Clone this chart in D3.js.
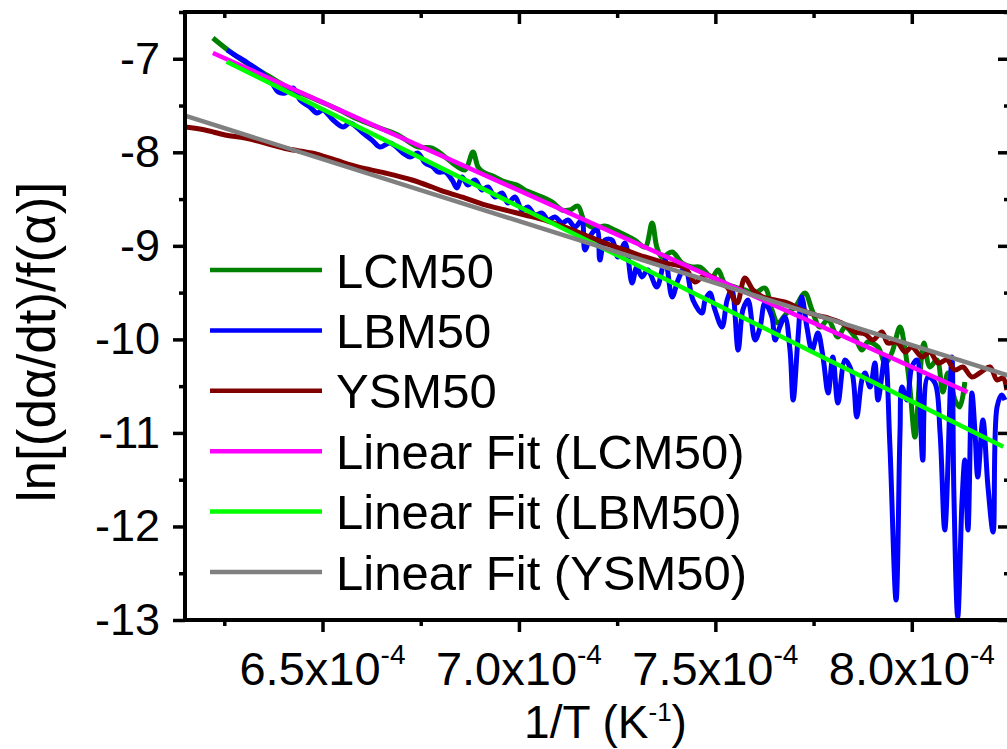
<!DOCTYPE html>
<html>
<head>
<meta charset="utf-8">
<script src="https://cdn.jsdelivr.net/npm/d3@7"></script>
<style>
  body { margin: 0; background: #fff; }
  svg { display: block; }
  text { font-family: "Liberation Sans", Arial, sans-serif; fill: #000; }
</style>
</head>
<body>
<svg id="chart" width="1007" height="749"></svg>
<script>
// x values are 1/T in units of 1e-4 K^-1, y values are ln[(dα/dt)/f(α)]
const xMajorTicks = [6.5, 7.0, 7.5, 8.0];
const xMinorTicks = [6.25, 6.75, 7.25, 7.75, 8.25];
const yMajorTicks = [-13, -12, -11, -10, -9, -8, -7];
const yMinorTicks = [-12.5, -11.5, -10.5, -9.5, -8.5, -7.5, -6.5];
const xExponent = "-4";

const seriesNames = ["LCM50", "LBM50", "YSM50",
  "Linear Fit (LCM50)", "Linear Fit (LBM50)", "Linear Fit (YSM50)"];
const seriesColors = ["#008000", "#0000ff", "#800000", "#ff00ff", "#00ff00", "#808080"];

const lcm50 = [
  [6.221,-6.778],[6.259,-6.906],[6.303,-7.035],[6.346,-7.142],[6.405,-7.291],[6.468,-7.409],
  [6.532,-7.526],[6.595,-7.655],[6.646,-7.740],[6.692,-7.815],[6.743,-7.943],[6.779,-7.954],
  [6.812,-8.050],[6.845,-8.157],[6.863,-8.189],[6.883,-7.997],[6.896,-8.157],[6.909,-8.211],
  [6.939,-8.264],[6.965,-8.317],[6.995,-8.350],[7.015,-8.403],[7.033,-8.435],[7.059,-8.478],
  [7.084,-8.531],[7.110,-8.617],[7.130,-8.617],[7.150,-8.574],[7.168,-8.745],[7.194,-8.809],
  [7.219,-8.788],[7.244,-8.831],[7.270,-8.884],[7.295,-8.938],[7.321,-9.012],[7.339,-8.756],
  [7.351,-9.012],[7.364,-9.119],[7.390,-9.066],[7.415,-9.183],[7.440,-9.226],[7.461,-9.226],
  [7.491,-9.333],[7.507,-9.258],[7.524,-9.397],[7.550,-9.440],[7.575,-9.472],[7.601,-9.504],
  [7.626,-9.451],[7.644,-9.686],[7.659,-9.825],[7.682,-9.718],[7.703,-9.654],[7.728,-9.504],
  [7.746,-9.686],[7.766,-9.868],[7.787,-9.793],[7.812,-9.975],[7.830,-9.868],[7.855,-9.975],
  [7.873,-10.114],[7.888,-10.028],[7.914,-10.081],[7.932,-10.253],[7.949,-10.146],[7.970,-9.868],
  [7.983,-10.114],[7.995,-10.509],[8.008,-11.044],[8.021,-10.359],[8.031,-10.039],[8.046,-10.295],
  [8.064,-10.220],[8.079,-10.563],[8.092,-10.359],[8.110,-10.648],[8.122,-10.723],[8.135,-10.456]
];

const lbm50 = [
  [6.257,-6.906],[6.277,-6.960],[6.310,-7.045],[6.346,-7.152],[6.371,-7.259],[6.387,-7.355],
  [6.405,-7.366],[6.425,-7.313],[6.443,-7.441],[6.468,-7.516],[6.486,-7.580],[6.501,-7.548],
  [6.527,-7.655],[6.552,-7.730],[6.570,-7.687],[6.603,-7.794],[6.626,-7.869],[6.646,-7.943],
  [6.672,-7.901],[6.705,-8.008],[6.723,-8.050],[6.743,-8.008],[6.761,-8.114],[6.781,-8.157],
  [6.794,-8.211],[6.812,-8.211],[6.830,-8.296],[6.842,-8.382],[6.855,-8.264],[6.870,-8.350],
  [6.888,-8.296],[6.906,-8.403],[6.921,-8.371],[6.939,-8.478],[6.957,-8.435],[6.972,-8.542],
  [6.990,-8.478],[7.008,-8.617],[7.023,-8.585],[7.041,-8.670],[7.059,-8.649],[7.074,-8.724],
  [7.092,-8.692],[7.110,-8.756],[7.125,-8.724],[7.143,-8.799],[7.160,-8.724],[7.168,-9.044],
  [7.186,-8.863],[7.199,-8.831],[7.206,-9.151],[7.219,-8.938],[7.237,-8.938],[7.252,-9.119],
  [7.270,-8.970],[7.288,-9.397],[7.300,-9.226],[7.313,-9.333],[7.328,-9.258],[7.351,-9.440],
  [7.372,-9.151],[7.390,-9.547],[7.405,-9.365],[7.423,-9.226],[7.443,-9.579],[7.466,-9.718],
  [7.474,-9.579],[7.486,-9.504],[7.499,-9.686],[7.517,-9.868],[7.530,-9.579],[7.542,-9.472],
  [7.558,-10.114],[7.570,-9.686],[7.583,-9.579],[7.601,-10.007],[7.614,-9.868],[7.626,-9.611],
  [7.644,-9.761],[7.652,-10.007],[7.664,-9.868],[7.677,-9.761],[7.690,-10.114],[7.698,-10.648],
  [7.710,-10.007],[7.720,-9.547],[7.733,-9.868],[7.746,-10.114],[7.761,-9.932],[7.774,-10.188],
  [7.787,-10.573],[7.799,-10.188],[7.812,-10.680],[7.830,-10.220],[7.848,-10.359],[7.860,-10.830],
  [7.873,-10.434],[7.881,-10.359],[7.894,-10.509],[7.906,-10.253],[7.914,-10.648],[7.932,-10.188],
  [7.944,-11.108],[7.960,-12.786],[7.970,-11.001],[7.975,-10.509],[7.988,-10.648],[8.000,-10.295],
  [8.013,-10.220],[8.021,-10.723],[8.028,-11.290],[8.041,-10.402],[8.059,-10.466],[8.072,-11.001],
  [8.084,-12.038],[8.102,-10.188],[8.107,-11.610],[8.117,-12.968],[8.128,-11.717],[8.135,-11.290],
  [8.143,-12.038],[8.153,-10.573],[8.161,-11.001],[8.168,-11.471],[8.181,-10.862],[8.194,-11.578],
  [8.207,-12.059],[8.217,-10.723],[8.229,-10.595],[8.237,-10.648]
];

const ysm50 = [
  [6.150,-7.730],[6.201,-7.762],[6.252,-7.815],[6.303,-7.847],[6.354,-7.901],[6.412,-7.965],
  [6.473,-8.008],[6.532,-8.082],[6.590,-8.157],[6.659,-8.221],[6.728,-8.296],[6.779,-8.371],
  [6.812,-8.424],[6.863,-8.489],[6.914,-8.563],[6.965,-8.617],[7.015,-8.670],[7.066,-8.724],
  [7.117,-8.799],[7.168,-8.884],[7.219,-8.970],[7.270,-9.044],[7.321,-9.119],[7.372,-9.183],
  [7.423,-9.237],[7.448,-9.387],[7.474,-9.312],[7.507,-9.365],[7.532,-9.451],[7.555,-9.611],
  [7.575,-9.344],[7.596,-9.472],[7.621,-9.547],[7.652,-9.579],[7.685,-9.611],[7.720,-9.686],
  [7.754,-9.739],[7.787,-9.771],[7.822,-9.825],[7.855,-9.921],[7.881,-9.942],[7.901,-10.007],
  [7.924,-9.921],[7.939,-10.039],[7.962,-10.028],[7.983,-10.135],[8.000,-10.081],[8.026,-10.188],
  [8.046,-10.135],[8.067,-10.253],[8.089,-10.220],[8.110,-10.327],[8.130,-10.295],[8.153,-10.402],
  [8.173,-10.359],[8.199,-10.295],[8.217,-10.434],[8.232,-10.413],[8.242,-10.541]
];

// straight-line fits, given by their end points
const fitLCM50 = [[6.221,-6.938],[8.142,-10.563]];
const fitLBM50 = [[6.256,-7.031],[8.233,-11.147]];
const fitYSM50 = [[6.150,-7.609],[8.250,-10.392]];

const allSeries = [lcm50, lbm50, ysm50, fitLCM50, fitLBM50, fitYSM50];

(function draw() {
  const svg = d3.select("#chart");
  const mLeft = 185, mRight = 1010, mTop = 12, mBottom = 620;
  const yTickFont = 45, xTickFont = 47, legendFont = 49;
  const fontFamily = "'Liberation Sans', Arial, sans-serif";

  const x = d3.scaleLinear().domain([6.15, 8.25]).range([mLeft, mRight]);
  const y = d3.scaleLinear().domain([-13, -6.5]).range([mBottom, mTop]);

  svg.append("defs").append("clipPath").attr("id", "plotClip")
    .append("rect").attr("x", mLeft).attr("y", mTop)
    .attr("width", mRight - mLeft).attr("height", mBottom - mTop);

  const curveLine = d3.line().x(d => x(d[0])).y(d => y(d[1]))
    .curve(d3.curveCatmullRom.alpha(0.5));
  const straightLine = d3.line().x(d => x(d[0])).y(d => y(d[1]));

  const plot = svg.append("g").attr("clip-path", "url(#plotClip)");
  allSeries.forEach((data, i) => {
    plot.append("path")
      .datum(data)
      .attr("fill", "none")
      .attr("stroke", seriesColors[i])
      .attr("stroke-width", i < 3 ? 5 : 4.5)
      .attr("stroke-linejoin", "round")
      .attr("d", i < 3 ? curveLine : straightLine);
  });

  // ticks point out on the left/bottom and in on the top/right
  function styleAxis(g) {
    g.select(".domain").remove();
    g.selectAll(".tick line").attr("stroke", "#000").attr("stroke-width", 3.5);
  }
  function addTicks(axis, transform) {
    svg.append("g").attr("transform", transform).call(axis).call(styleAxis);
  }

  addTicks(d3.axisBottom(x).tickValues(xMajorTicks).tickSize(12).tickFormat(""), `translate(0,${mBottom})`);
  addTicks(d3.axisBottom(x).tickValues(xMinorTicks).tickSize(6).tickFormat(""), `translate(0,${mBottom})`);
  addTicks(d3.axisBottom(x).tickValues(xMajorTicks).tickSize(12).tickFormat(""), `translate(0,${mTop})`);
  addTicks(d3.axisBottom(x).tickValues(xMinorTicks).tickSize(6).tickFormat(""), `translate(0,${mTop})`);
  addTicks(d3.axisLeft(y).tickValues(yMinorTicks).tickSize(6).tickFormat(""), `translate(${mLeft},0)`);
  addTicks(d3.axisLeft(y).tickValues(yMajorTicks).tickSize(12).tickFormat(""), `translate(${mRight},0)`);
  addTicks(d3.axisLeft(y).tickValues(yMinorTicks).tickSize(6).tickFormat(""), `translate(${mRight},0)`);

  svg.append("g").attr("transform", `translate(${mLeft},0)`)
    .call(d3.axisLeft(y).tickValues(yMajorTicks).tickSize(12).tickPadding(13)
      .tickFormat(d => String(d)))
    .call(styleAxis)
    .call(g => g.selectAll(".tick text")
      .attr("font-size", yTickFont)
      .attr("font-family", fontFamily)
      .attr("fill", "#000"));

  // x tick labels with a power-of-ten superscript
  const xLab = svg.append("g");
  xMajorTicks.forEach(v => {
    const t = xLab.append("text")
      .attr("x", x(v)).attr("y", 685)
      .attr("text-anchor", "middle")
      .attr("font-size", xTickFont);
    t.append("tspan").text(d3.format(".1f")(v) + "x10");
    t.append("tspan").attr("dy", -21).attr("font-size", 28).text(xExponent);
  });

  // frame
  svg.append("rect")
    .attr("x", mLeft).attr("y", mTop)
    .attr("width", mRight - mLeft).attr("height", mBottom - mTop)
    .attr("fill", "none").attr("stroke", "#000").attr("stroke-width", 4);

  // axis titles
  const xTitle = svg.append("text")
    .attr("x", (mLeft + mRight) / 2 + 8).attr("y", 738)
    .attr("text-anchor", "middle").attr("font-size", 46);
  xTitle.append("tspan").text("1/T (K");
  xTitle.append("tspan").attr("dy", -17).attr("font-size", 26).text("-1");
  xTitle.append("tspan").attr("dy", 17).text(")");

  svg.append("text")
    .attr("transform", "translate(55,342) rotate(-90)")
    .attr("text-anchor", "middle").attr("font-size", 53)
    .text("ln[(dα/dt)/f(α)]");

  // legend
  const legend = svg.append("g");
  seriesNames.forEach((name, i) => {
    const ly = 270 + i * 60.4;
    legend.append("line")
      .attr("x1", 210).attr("x2", 322).attr("y1", ly).attr("y2", ly)
      .attr("stroke", seriesColors[i]).attr("stroke-width", 4.5);
    legend.append("text")
      .attr("x", 336).attr("y", ly).attr("dy", "0.36em")
      .attr("font-size", legendFont).text(name);
  });
})();
</script>
</body>
</html>
